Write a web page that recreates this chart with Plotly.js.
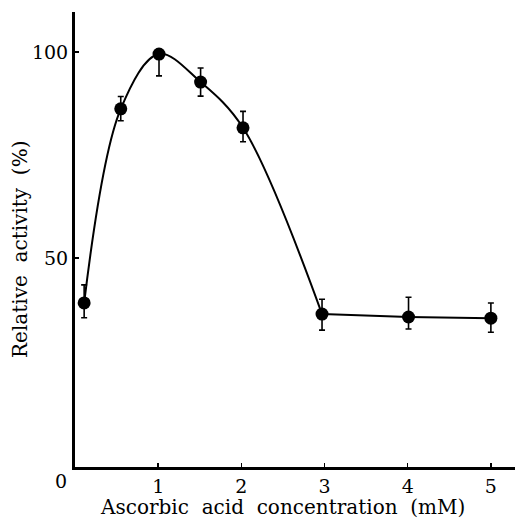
<!DOCTYPE html>
<html>
<head>
<meta charset="utf-8">
<script src="https://cdn.plot.ly/plotly-3.0.1.min.js"></script>
<style>html,body{margin:0;padding:0;background:#fff;}#chart{width:515px;height:520px;}</style>
</head>
<body>
<div id="chart"></div>
<script>
// Data
const concentration = [0.11, 0.55, 1.01, 1.51, 2.02, 2.97, 4.01, 5.0];
const activity      = [39.1, 86.2, 99.5, 92.7, 81.6, 36.4, 35.7, 35.4];
const errPlus       = [4.4, 3.0, 0, 3.4, 4.0, 3.6, 4.8, 3.7];
const errMinus      = [3.6, 2.9, 5.3, 3.4, 3.4, 3.9, 2.9, 3.4];
const xTickVals = [1, 2, 3, 4, 5];
const yTickVals = [50, 100];
const xTitleWords = ["Ascorbic", "acid", "concentration", "(mM)"];
const yTitleWords = ["Relative", "activity", "(%)"];

const nCurve = 6; // smooth part ends at the 3 mM point
const font = "DejaVu Serif, Liberation Serif, serif";
const gap = "\u00a0\u00a0";

const traces = [
  {
    x: concentration.slice(0, nCurve), y: activity.slice(0, nCurve),
    type: "scatter", mode: "lines",
    line: {color: "#000", width: 2, shape: "spline", smoothing: 1},
    hoverinfo: "skip", showlegend: false
  },
  {
    x: concentration.slice(nCurve - 1), y: activity.slice(nCurve - 1),
    type: "scatter", mode: "lines",
    line: {color: "#000", width: 2},
    hoverinfo: "skip", showlegend: false
  },
  {
    x: concentration, y: activity,
    type: "scatter", mode: "markers",
    marker: {color: "#000", size: 13},
    error_y: {type: "data", symmetric: false, array: errPlus, arrayminus: errMinus,
              color: "#000", thickness: 1.6, width: 3},
    showlegend: false
  }
];

const layout = {
  width: 515, height: 520,
  margin: {l: 75, r: 0, t: 12, b: 53},
  paper_bgcolor: "#fff", plot_bgcolor: "#fff",
  font: {family: font, color: "#000", size: 20},
  xaxis: {
    range: [0, 5.29], tickvals: xTickVals, ticktext: xTickVals.map(String),
    ticks: "inside", ticklen: 4, tickwidth: 1.5, tickcolor: "#000",
    showline: true, linewidth: 3, linecolor: "#000",
    showgrid: false, zeroline: false,
    tickfont: {family: font, size: 19, color: "#000"}
  },
  yaxis: {
    range: [-0.7, 109.7], tickvals: yTickVals, ticktext: yTickVals.map(String),
    ticks: "inside", ticklen: 4, tickwidth: 1.5, tickcolor: "#000",
    showline: true, linewidth: 3, linecolor: "#000",
    showgrid: false, zeroline: false,
    tickfont: {family: font, size: 19, color: "#000"}
  },
  annotations: [
    {
      x: 0, y: 0, xref: "x", yref: "y", text: "0", showarrow: false,
      xanchor: "center", yanchor: "top", xshift: -14, yshift: -4,
      font: {family: font, size: 19, color: "#000"}
    },
    {
      x: 0.4705, y: 0, xref: "paper", yref: "paper", text: xTitleWords.join(gap),
      showarrow: false, xanchor: "center", yanchor: "middle", yshift: -40, borderpad: 0,
      font: {family: font, size: 20, color: "#000"}
    },
    {
      x: -0.125, y: 0.477, xref: "paper", yref: "paper", text: yTitleWords.join(gap),
      showarrow: false, xanchor: "center", yanchor: "middle", textangle: -90, borderpad: 0,
      font: {family: font, size: 20, color: "#000"}
    }
  ]
};

Plotly.newPlot("chart", traces, layout, {displayModeBar: false, staticPlot: true});
</script>
</body>
</html>
